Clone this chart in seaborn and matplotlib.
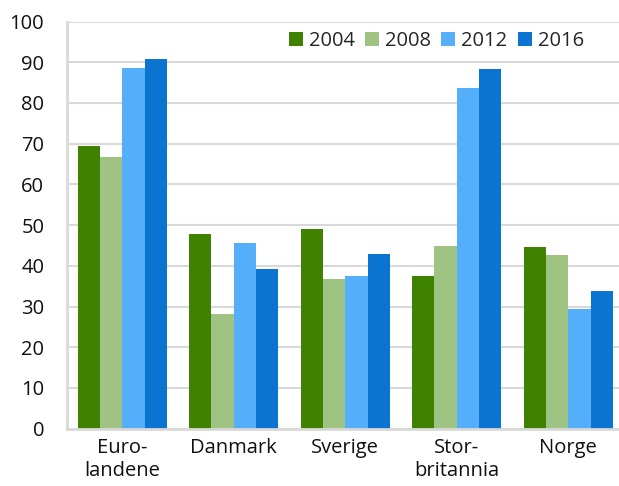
import matplotlib
matplotlib.use("Agg")
import matplotlib.pyplot as plt
import seaborn as sns
import pandas as pd

countries = ["Euro-\nlandene", "Danmark", "Sverige", "Stor-\nbritannia", "Norge"]
years = ["2004", "2008", "2012", "2016"]
v2004 = [69.4, 47.8, 49.0, 37.4, 44.6]
v2008 = [66.7, 28.2, 36.7, 44.9, 42.6]
v2012 = [88.5, 45.7, 37.4, 83.6, 29.3]
v2016 = [90.7, 39.2, 42.9, 88.4, 33.9]
colors = ["#3f8200", "#9fc383", "#55aefa", "#0a74d0"]

rows = []
for yr, vals in zip(years, [v2004, v2008, v2012, v2016]):
    for c, v in zip(countries, vals):
        rows.append({"land": c, "aar": yr, "verdi": v})
df = pd.DataFrame(rows)

sns.set_style("white")
plt.rcParams["font.family"] = ["Open Sans", "DejaVu Sans"]

fig = plt.figure(figsize=(6.19, 4.86), dpi=100)
ax = fig.add_axes([66.5 / 619, 57.4 / 486, (624 - 66.5) / 619, 407 / 486])

sns.barplot(data=df, x="land", y="verdi", hue="aar", palette=colors,
            width=0.8, saturation=1, edgecolor="none", ax=ax)

ax.set_ylim(0, 100)
ax.set_xlim(-0.5, 4.5)
ax.set_yticks(range(0, 101, 10))
ax.yaxis.grid(True, color="#d9d9d9", linewidth=1.5)
ax.set_axisbelow(True)
ax.set_xlabel("")
ax.set_ylabel("")
for s in ["top", "right"]:
    ax.spines[s].set_visible(False)
for s in ["left", "bottom"]:
    ax.spines[s].set_color("#d9d9d9")
    ax.spines[s].set_linewidth(2)
ax.tick_params(axis="y", length=0, pad=16, labelsize=14.5, labelcolor="#111111")
ax.tick_params(axis="x", length=0, pad=7, labelsize=14.5, labelcolor="#111111")

leg = ax.legend(loc="upper right", bbox_to_anchor=(591 / 619, 1 - 24 / 486),
                bbox_transform=fig.transFigure,
                ncol=4, frameon=True, fancybox=False, fontsize=14.5,
                handlelength=0.7, handleheight=0.7, handletextpad=0.3,
                columnspacing=0.5, borderpad=0.35, borderaxespad=0)
leg.get_frame().set_facecolor("white")
leg.get_frame().set_edgecolor("white")
leg.get_frame().set_alpha(1)

fig.savefig("out.png", dpi=100)
